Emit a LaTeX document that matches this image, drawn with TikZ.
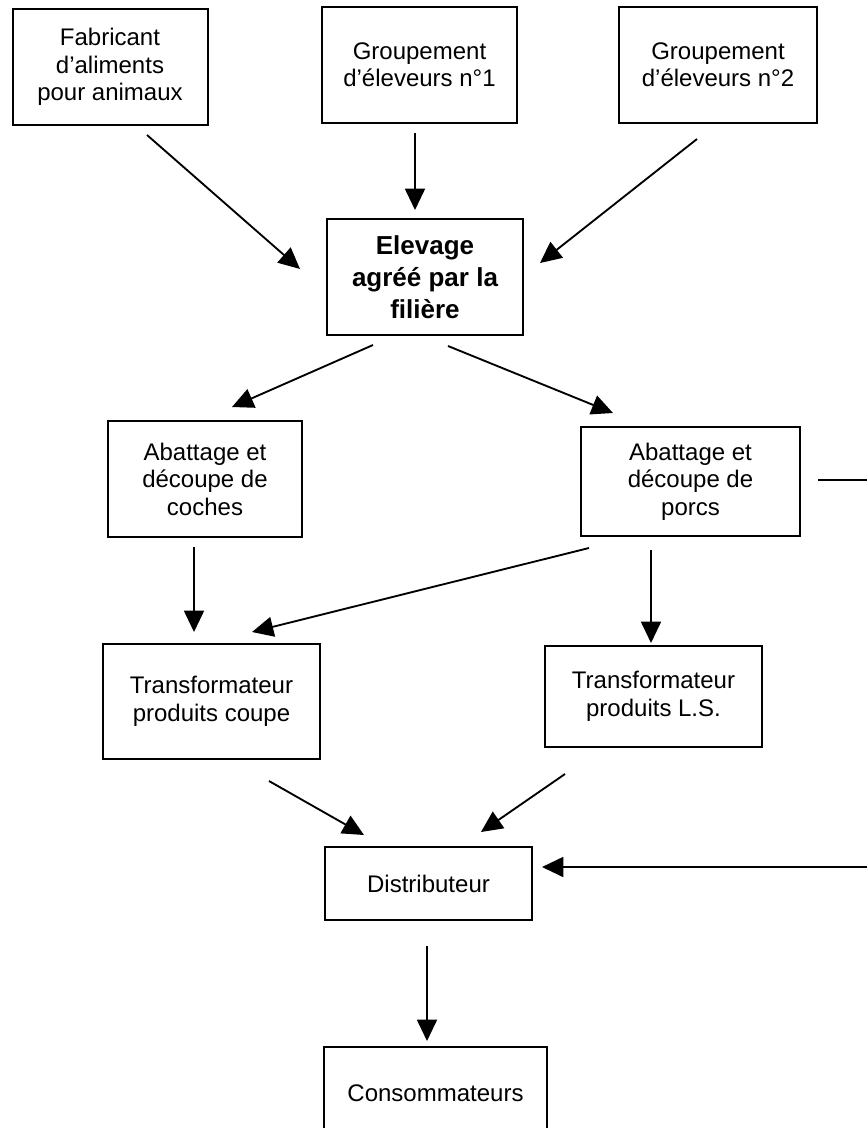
\documentclass[tikz,border=0pt]{standalone}
\usepackage{fontspec}
\setmainfont{Liberation Sans}
\usetikzlibrary{arrows.meta,calc}

\begin{document}
\begin{tikzpicture}[x=0.75pt,y=-0.75pt,
  boite/.style={draw,line width=1.5pt,align=center,inner sep=0pt,font=\fontsize{18}{20.6}\selectfont},
  fleche/.style={line width=1.4pt,-{Triangle[length=16pt,width=15pt]}}]
\clip (0,0) rectangle (867,1128);
% fournisseurs
\node[boite,minimum width=146.25pt,minimum height=87pt] (fab) at (110,67) {Fabricant\\d’aliments\\pour animaux};
\node[boite,minimum width=146.25pt,minimum height=87pt] (grp1) at (419.5,65) {Groupement\\d’éleveurs n°1};
\node[boite,minimum width=148.5pt,minimum height=87pt] (grp2) at (718,65) {Groupement\\d’éleveurs n°2};
% elevage
\node[boite,minimum width=147pt,minimum height=87pt,font={\fontsize{19.5}{24}\selectfont\bfseries}] (elev) at (425,277) {Elevage\\agréé par la\\filière};
% abattoirs
\node[boite,minimum width=145.5pt,minimum height=87pt] (coch) at (205,479) {Abattage et\\découpe de\\coches};
\node[boite,minimum width=164.25pt,minimum height=81.75pt] (porc) at (690.5,481.5) {Abattage et\\découpe de\\porcs};
% transformateurs
\node[boite,minimum width=162.75pt,minimum height=86.25pt] (coupe) at (211.5,701.5) {Transformateur\\produits coupe};
\node[boite,minimum width=162.75pt,minimum height=75.75pt] (ls) at (653.5,696.5) {Transformateur\\produits L.S.};
% aval
\node[boite,minimum width=155.25pt,minimum height=54.75pt] (dist) at (428.5,883.5) {Distributeur};
\node[boite,minimum width=167.25pt,minimum height=69pt] (cons) at (435.5,1093) {Consommateurs};

\draw[fleche] ($(fab.south)+(37,9)$) -- ($(elev.west)+(-26,-8)$);
\draw[fleche] ($(grp1.south)+(-4.5,9)$) -- ($(elev.north)+(-10,-8)$);
\draw[fleche] ($(grp2.south)+(-21,15)$) -- ($(elev.east)+(16,-14)$);
\draw[fleche] ($(elev.south)+(-52,9)$) -- ($(coch.north)+(27,-13)$);
\draw[fleche] ($(elev.south)+(23,10)$) -- ($(porc.north)+(-77.5,-13)$);
\draw[fleche] ($(coch.south)+(-11,9)$) -- ($(coupe.north)+(-17.5,-11)$);
\draw[fleche] ($(porc.south)+(-101.5,11)$) -- ($(coupe.north)+(40.5,-11)$);
\draw[fleche] ($(porc.south)+(-39.5,13)$) -- ($(ls.north)+(-2.5,-2)$);
\draw[fleche] ($(coupe.south)+(57.5,21)$) -- ($(dist.north)+(-64.5,-11)$);
\draw[fleche] ($(ls.south)+(-88.5,26)$) -- ($(dist.north)+(52.5,-14)$);
\draw[fleche] ($(porc.east)+(17,-1.5)$) -- (900,480) |- ($(dist.east)+(9,-16.5)$);% sort de la page
\draw[fleche] ($(dist.south)+(-1.5,25)$) -- ($(cons.north)+(-8.5,-5)$);
\end{tikzpicture}
\end{document}
